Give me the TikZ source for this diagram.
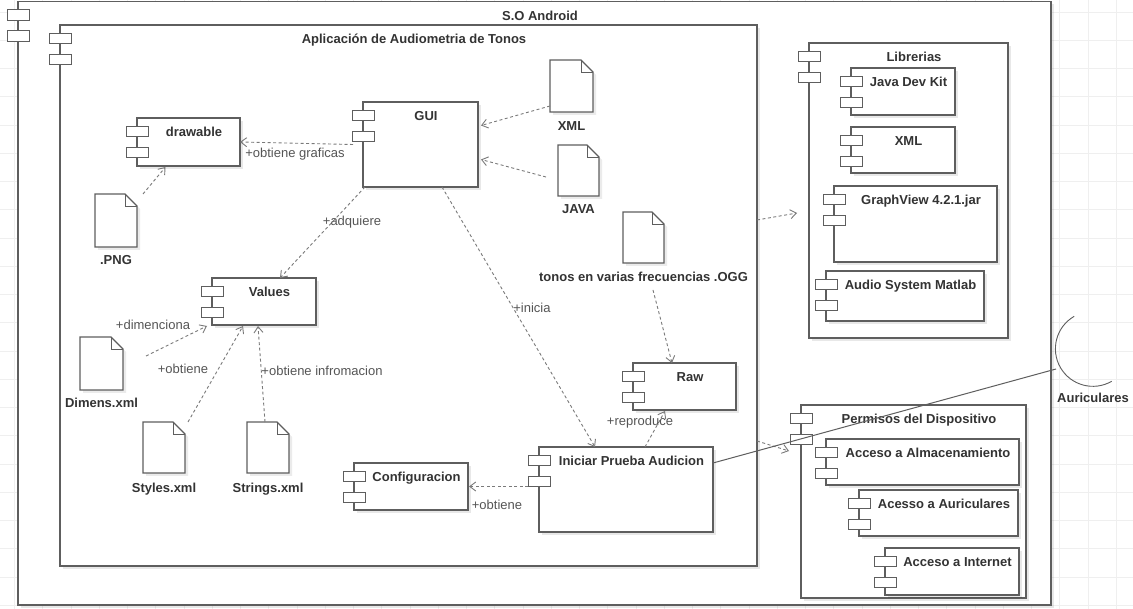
\documentclass[tikz,border=0pt]{standalone}
\usepackage{fontspec}
\setmainfont{Liberation Sans}
\usetikzlibrary{arrows.meta,shadows}

\definecolor{edgec}{HTML}{5E5E5E}
\definecolor{ink}{HTML}{333333}
\definecolor{inklight}{HTML}{555555}
\definecolor{depc}{HTML}{7A7A7A}
\definecolor{gridc}{HTML}{EFEFEF}

\tikzset{
  compbox/.style={rectangle, draw=edgec, line width=1.1pt, fill=white, inner sep=0pt, outer sep=0pt,
    drop shadow={shadow xshift=3pt, shadow yshift=-3pt, fill=black, opacity=.09}},
  port/.style={rectangle, draw=edgec, line width=0.9pt, fill=white, inner sep=0pt, outer sep=0pt,
    minimum width=22pt, minimum height=10.5pt},
  title/.style={font=\bfseries\fontsize{13}{15}\selectfont, text=ink, inner sep=0pt,
    text height=12.3pt, text depth=3pt},
  lbl/.style={font=\fontsize{13}{15}\selectfont, text=inklight, inner sep=0pt,
    text height=12.3pt, text depth=3pt},
  docnode/.style={rectangle, inner sep=0pt, outer sep=0pt, draw=none},
  docline/.style={draw=edgec, line width=1.1pt, line join=miter},
  dep/.style={draw=depc, line width=0.9pt, dash pattern=on 3pt off 2.5pt,
    -{Straight Barb[length=6pt,width=9pt,line width=0.9pt]}},
  wire/.style={draw=edgec, line width=1pt},
}

% component: name, x1, y1, x2, y2, title
\newcommand{\umlcomp}[6]{%
  \node[compbox, minimum width={(#4)-(#2)}, minimum height={(#5)-(#3)}]
    (#1) at ({((#2)+(#4))/2},{((#3)+(#5))/2}) {};
  \node[port, anchor=north] (#1-p1) at ([yshift=-8pt]#1.north west) {};
  \node[port, anchor=north] (#1-p2) at ([yshift=-29pt]#1.north west) {};
  \node[title] (#1-t) at ([xshift=5.5pt,yshift=-14pt]#1.north) {#6};
}

% document artefact with a folded corner: name, x1, y1, x2, y2
\newcommand{\umldoc}[5]{%
  \node[docnode, minimum width={(#4)-(#2)}, minimum height={(#5)-(#3)}]
    (#1) at ({((#2)+(#4))/2},{((#3)+(#5))/2}) {};
  \fill[black, opacity=.08] ([shift={(3pt,-3pt)}]#1.north west)
    -- ([shift={(-9pt,-3pt)}]#1.north east) -- ([shift={(3pt,-15pt)}]#1.north east)
    -- ([shift={(3pt,-3pt)}]#1.south east) -- ([shift={(3pt,-3pt)}]#1.south west) -- cycle;
  \draw[docline, fill=white] (#1.north west) -- ([xshift=-12pt]#1.north east)
    -- ([yshift=-12pt]#1.north east) -- (#1.south east) -- (#1.south west) -- cycle;
  \draw[docline, line width=0.9pt] ([xshift=-12pt]#1.north east)
    -- ([xshift=-12pt,yshift=-12pt]#1.north east) -- ([yshift=-12pt]#1.north east);
}

\begin{document}
\begin{tikzpicture}[x=1pt,y=-1pt]
\useasboundingbox (0,0) rectangle (1133,609);
\fill[white] (0,0) rectangle (1133,609);

% background grid
\foreach \i in {0,...,39} \draw[gridc, line width=0.9pt] ({14.5+28.25*\i},0) -- ({14.5+28.25*\i},609);
\foreach \j in {0,...,21} \draw[gridc, line width=0.9pt] (0,{12+28.25*\j}) -- (1133,{12+28.25*\j});

% containers
\umlcomp{android}{18}{1.5}{1051}{605}{S.O Android}
\umlcomp{app}{60}{25}{757}{566}{Aplicación de Audiometria de Tonos}

% application components
\umlcomp{drawable}{137}{118}{240}{166}{drawable}
\umlcomp{gui}{363}{102}{478}{187}{GUI}
\umlcomp{values}{212}{278}{316}{325}{Values}
\umlcomp{raw}{633}{363}{736}{410}{Raw}
\umlcomp{iniciar}{539}{447}{713}{532}{Iniciar Prueba Audicion}
\umlcomp{config}{354}{463}{468}{510}{Configuracion}

% libraries
\umlcomp{libs}{809}{43}{1008}{338}{Librerias}
\umlcomp{jdk}{851}{68}{955}{115}{Java Dev Kit}
\umlcomp{xmllib}{851}{127}{955}{173}{XML}
\umlcomp{graphview}{834}{186}{997}{262}{GraphView 4.2.1.jar}
\umlcomp{audiosys}{826}{271}{984}{321}{Audio System Matlab}

% device permissions
\umlcomp{perm}{801}{405}{1026}{598}{Permisos del Dispositivo}
\umlcomp{almac}{826}{439}{1019}{485}{Acceso a Almacenamiento}
\umlcomp{auric}{859}{490}{1018}{536}{Acesso a Auriculares}
\umlcomp{internet}{885}{548}{1019}{595}{Acceso a Internet}

% files
\umldoc{xmlf}{550}{60}{593}{112}
\node[title] (xmlf-l) at ([yshift=-14pt]xmlf.south) {XML};
\umldoc{javaf}{558}{145}{599}{196}
\node[title] (javaf-l) at ([yshift=-13pt]javaf.south) {JAVA};
\umldoc{png}{95}{194}{137}{247}
\node[title] (png-l) at ([yshift=-13pt]png.south) {.PNG};
\umldoc{ogg}{623}{212}{664}{263}
\node[title] (ogg-l) at ([yshift=-14pt]ogg.south) {tonos en varias frecuencias .OGG};
\umldoc{dimens}{80}{337}{123}{390}
\node[title] (dimens-l) at ([yshift=-13pt]dimens.south) {Dimens.xml};
\umldoc{styles}{143}{422}{185}{473}
\node[title] (styles-l) at ([yshift=-15pt]styles.south) {Styles.xml};
\umldoc{strings}{247}{422}{289}{473}
\node[title] (strings-l) at ([yshift=-15pt]strings.south) {Strings.xml};

% external headset interface
\node[circle, minimum size=75pt, inner sep=0pt, draw=none] (aur) at (1093,349) {};
\draw[wire, line width=0.9pt] (aur.120) arc[start angle=120, end angle=300, radius=37.5pt];
\node[title] (aur-l) at (1093,398) {Auriculares};
\coordinate (aurjack) at (1056,369);

% dependencies
\draw[dep] ([xshift=-10pt]gui.west) -- (drawable.east);
\node[lbl] (l-graf) at (295,153) {+obtiene graficas};
\draw[dep] ([xshift=6pt]png.north east) -- ([xshift=-23pt,yshift=-1pt]drawable.south);
\draw[dep] ([yshift=-20pt]xmlf.west) -- ([xshift=3pt,yshift=19pt]gui.east);
\draw[dep] ([xshift=-12pt,yshift=-6.5pt]javaf.west) -- ([xshift=3pt,yshift=-15pt]gui.east);
\draw[dep] ([xshift=2pt]gui.south west) -- ([xshift=16pt]values.north);
\node[lbl] (l-adq) at (352,221) {+adquiere};
\draw[dep] ([xshift=21.5pt]gui.south) -- ([xshift=-31pt]iniciar.north);
\node[lbl] (l-ini) at (532,308) {+inicia};
\draw[dep] ([xshift=23pt,yshift=-19pt]dimens.north east) -- ([xshift=-5pt,yshift=-1pt]values.south west);
\node[lbl] (l-dim) at (153,325) {+dimenciona};
\draw[dep] ([xshift=3pt]styles.north east) -- ([xshift=-21pt,yshift=-1pt]values.south);
\node[lbl] (l-obt) at (183,369) {+obtiene};
\draw[dep] ([xshift=-3pt]strings.north) -- ([xshift=-6pt,yshift=-1pt]values.south);
\node[lbl] (l-inf) at (322,371) {+obtiene infromacion};
\draw[dep] ([xshift=9.5pt,yshift=-27pt]ogg.south) -- ([xshift=-12.5pt]raw.north);
\draw[dep] ([xshift=19pt]iniciar.north) -- ([xshift=-19.5pt,yshift=-1pt]raw.south);
\node[lbl] (l-rep) at (640,421) {+reproduce};
\draw[dep] (iniciar-p2.west |- config.east) -- ([xshift=1pt]config.east);
\node[lbl] (l-conf) at (497,505) {+obtiene};
\draw[dep] ([yshift=75.5pt]app.east) -- ([xshift=-12pt,yshift=-22.5pt]libs.west);
\draw[dep] ([yshift=-145.5pt]app.east) -- ([xshift=-12pt,yshift=50.5pt]perm.west);

% headset connection
\draw[wire] ([yshift=26.5pt]iniciar.east) -- (aurjack);
\end{tikzpicture}
\end{document}
